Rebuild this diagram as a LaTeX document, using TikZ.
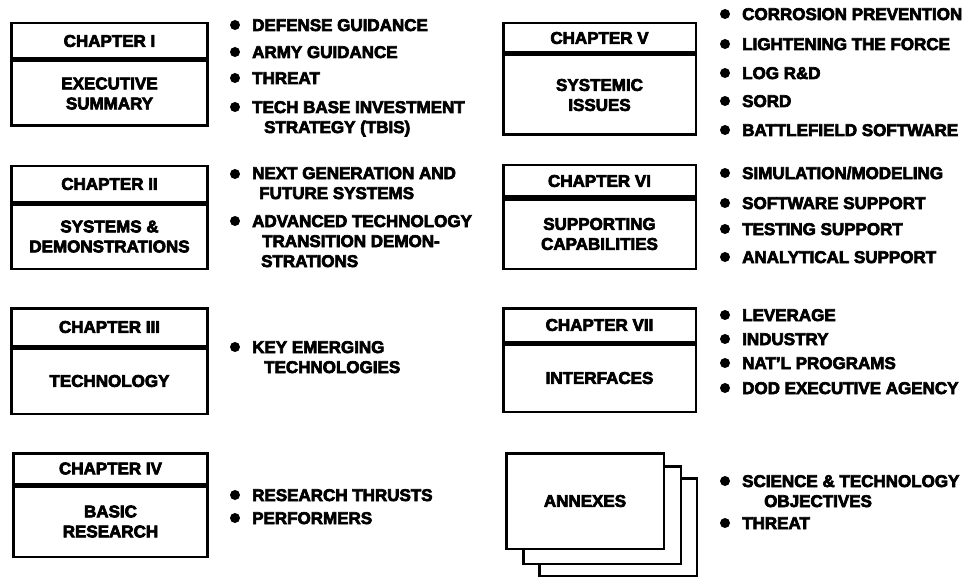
\documentclass[tikz,border=0pt]{standalone}
\usepackage{fontspec}
\setmainfont{Liberation Sans}[BoldFeatures={FakeBold=4}]
\usetikzlibrary{positioning}

\begin{document}
\begin{tikzpicture}[x=1pt,y=-1pt,font=\fontsize{17}{20}\selectfont\bfseries]
        \useasboundingbox (0,0) rectangle (971,580);
        % chapter boxes
        \begin{scope}[
            every node/.style={shape=rectangle,draw=black,line width=2.5pt,inner sep=0pt,align=center}
        ]
            \node[minimum width=196pt,minimum height=35.5pt] (H1) at (109.5,41) {CHAPTER I};
            \node[minimum width=196pt,minimum height=64.5pt,below=0pt of H1] (B1) {EXECUTIVE\\SUMMARY};

            \node[minimum width=196pt,minimum height=35.5pt] (H2) at (109.5,184) {CHAPTER II};
            \node[minimum width=196pt,minimum height=64.5pt,below=0pt of H2] (B2) {SYSTEMS \&\\DEMONSTRATIONS};

            \node[minimum width=196pt,minimum height=37.5pt] (H3) at (109.5,327) {CHAPTER III};
            \node[minimum width=196pt,minimum height=65.5pt,below=0pt of H3] (B3) {TECHNOLOGY};

            \node[minimum width=194pt,minimum height=30.5pt] (H4) at (110.5,468.5) {CHAPTER IV};
            \node[minimum width=194pt,minimum height=70.5pt,below=0pt of H4] (B4) {BASIC\\RESEARCH};

            \node[minimum width=192.5pt,minimum height=29.5pt] (H5) at (599.5,38) {CHAPTER V};
            \node[minimum width=192.5pt,minimum height=79.5pt,below=0pt of H5] (B5) {SYSTEMIC\\ISSUES};

            \node[minimum width=192.5pt,minimum height=31.5pt] (H6) at (599.5,181) {CHAPTER VI};
            \node[minimum width=192.5pt,minimum height=69.5pt,below=0pt of H6] (B6) {SUPPORTING\\CAPABILITIES};

            \node[minimum width=192.5pt,minimum height=33.5pt] (H7) at (599.5,325) {CHAPTER VII};
            \node[minimum width=192.5pt,minimum height=67.5pt,below=0pt of H7] (B7) {INTERFACES};

            % annexes, back sheets first
            \node[fill=white,minimum width=157.5pt,minimum height=97.5pt] (A3) at (618,527) {};
            \node[fill=white,minimum width=157.5pt,minimum height=97.5pt] (A2) at (602,515) {};
            \node[fill=white,minimum width=157.5pt,minimum height=95.5pt] (A1) at (585,501) {ANNEXES};
        \end{scope}
        % bullets
        \begin{scope}[
            every node/.style={shape=circle,fill=black,minimum size=10pt,inner sep=0pt}
        ]
            \node (D1a) at (235,25) {};
            \node (D1b) at (235,52) {};
            \node (D1c) at (235,78) {};
            \node (D1d) at (235,107) {};
            \node (D2a) at (235,174) {};
            \node (D2b) at (235,221) {};
            \node (D3a) at (235,347) {};
            \node (D4a) at (235,495) {};
            \node (D4b) at (235,518) {};

            \node (D5a) at (725,14) {};
            \node (D5b) at (725,44) {};
            \node (D5c) at (725,73) {};
            \node (D5d) at (725,101) {};
            \node (D5e) at (725,130) {};
            \node (D6a) at (725,173) {};
            \node (D6b) at (725,203) {};
            \node (D6c) at (725,229) {};
            \node (D6d) at (725,257) {};
            \node (D7a) at (725,315) {};
            \node (D7b) at (725,339) {};
            \node (D7c) at (725,363) {};
            \node (D7d) at (725,388) {};
            \node (D8a) at (725,481) {};
            \node (D8b) at (725,523) {};
        \end{scope}
        % bullet texts (base = last line)
        \begin{scope}[
            every node/.style={anchor=base west,align=left,inner sep=0pt}
        ]
            \node (T1a) at (252,31) {DEFENSE GUIDANCE};
            \node (T1b) at (252,58) {ARMY GUIDANCE};
            \node (T1c) at (252,84) {THREAT};
            \node (T1d) at (252,133) {TECH BASE INVESTMENT\\\hspace*{12pt}STRATEGY (TBIS)};
            \node (T2a) at (252,199) {NEXT GENERATION AND\\\hspace*{7pt}FUTURE SYSTEMS};
            \node (T2b) at (252,267) {ADVANCED TECHNOLOGY\\\hspace*{10pt}TRANSITION DEMON-\\\hspace*{9pt}STRATIONS};
            \node (T3a) at (252,373) {KEY EMERGING\\\hspace*{12pt}TECHNOLOGIES};
            \node (T4a) at (252,501) {RESEARCH THRUSTS};
            \node (T4b) at (252,524) {PERFORMERS};

            \node (T5a) at (742,20) {CORROSION PREVENTION};
            \node (T5b) at (742,50) {LIGHTENING THE FORCE};
            \node (T5c) at (742,79) {LOG R\&D};
            \node (T5d) at (742,107) {SORD};
            \node (T5e) at (742,136) {BATTLEFIELD SOFTWARE};
            \node (T6a) at (742,179) {SIMULATION/MODELING};
            \node (T6b) at (742,209) {SOFTWARE SUPPORT};
            \node (T6c) at (742,235) {TESTING SUPPORT};
            \node (T6d) at (742,263) {ANALYTICAL SUPPORT};
            \node (T7a) at (742,321) {LEVERAGE};
            \node (T7b) at (742,345) {INDUSTRY};
            \node (T7c) at (742,369) {NAT'L PROGRAMS};
            \node (T7d) at (742,394) {DOD EXECUTIVE AGENCY};
            \node (T8a) at (742,507) {SCIENCE \& TECHNOLOGY\\\hspace*{22pt}OBJECTIVES};
            \node (T8b) at (742,529) {THREAT};
        \end{scope}
    \end{tikzpicture}
\end{document}
